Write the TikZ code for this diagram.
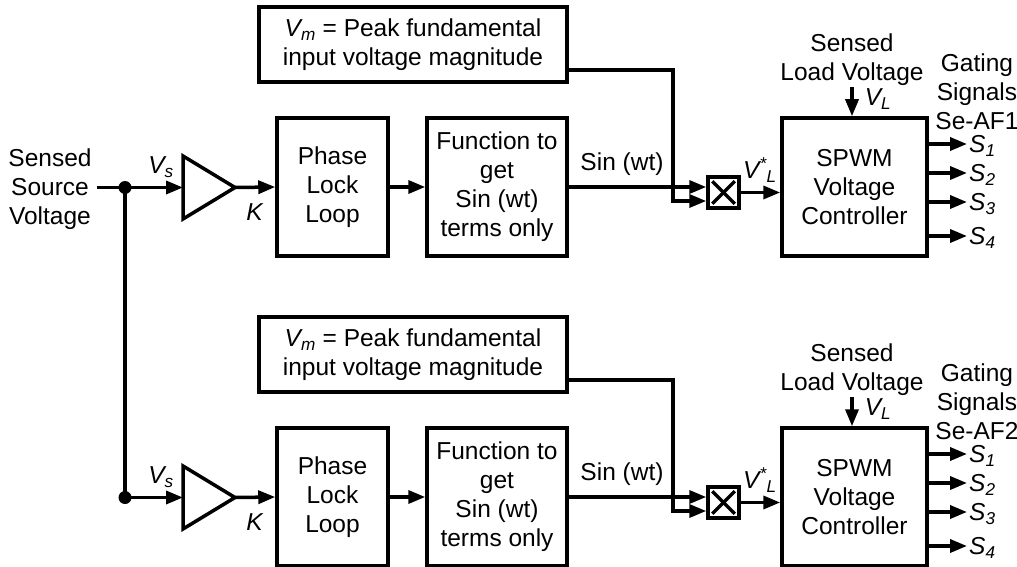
\documentclass[tikz,border=0pt]{standalone}
\usepackage{fontspec}
\setmainfont{Liberation Sans}
\usetikzlibrary{arrows.meta}
\tikzset{
  blk/.style={draw, line width=3.5pt, align=center, inner sep=0pt},
  wire/.style={line width=3.5pt},
  conn/.style={line width=3.5pt, -{Triangle[length=17pt,width=13pt]}},
  lbl/.style={inner sep=0pt, align=center},
}
\begin{document}
\begin{tikzpicture}[x=1pt,y=-1pt,font=\fontsize{24.5}{29}\selectfont, line join=miter]
\useasboundingbox (0,0) rectangle (1017,567);
\foreach \r/\dy/\af in {a/0/1,b/310/2}{
\begin{scope}[shift={(0,\dy)}]
  \node[blk, minimum width=308pt, minimum height=75pt] (vm\r) at (413,44.5)
     {\textit{V\textsubscript{m}} = Peak fundamental\\input voltage magnitude};
  \node[blk, minimum width=111pt, minimum height=138pt] (pll\r) at (332.5,187) {Phase\\Lock\\Loop};
  \node[blk, minimum width=140pt, minimum height=138pt] (fun\r) at (497,187) {Function to\\get\\Sin (wt)\\terms only};
  \node[blk, minimum width=31pt, minimum height=31pt] (mul\r) at (723.5,192.5) {};
  \node[blk, minimum width=145pt, minimum height=138pt] (spwm\r) at (854.5,187) {SPWM\\Voltage\\Controller};
  \coordinate (dot\r) at (125,187.5);
  \coordinate (trin\r) at (183,187.5);
  \coordinate (trout\r) at (235,187.5);
  \coordinate (vmk\r) at (673,201);
  \coordinate (slvk\r) at (852,87);
  % triangle amplifier
  \draw[wire] (183,156) -- (trout\r) -- (183,219) -- cycle;
  \fill (dot\r) circle[radius=6.5pt];
  \draw[conn] (dot\r) -- (trin\r);
  \draw[conn] (trout\r) -- (pll\r.west);
  \draw[conn] (pll\r.east) -- (fun\r.west);
  \draw[conn] (fun\r.east) -- (fun\r.east -| mul\r.west);
  \draw[conn] ([yshift=-25.5pt]vm\r.east) -| (vmk\r) -- (vmk\r -| mul\r.west);
  \draw[wire] ([shift={(6pt,6pt)}]mul\r.south west) -- ([shift={(-6pt,-6pt)}]mul\r.north east);
  \draw[wire] ([shift={(6pt,-6pt)}]mul\r.north west) -- ([shift={(-6pt,6pt)}]mul\r.south east);
  \draw[conn] (mul\r.east) -- (spwm\r.west |- mul\r.east);
  \draw[conn] (slvk\r) -- (slvk\r |- spwm\r.north);
  \node[lbl] (vs\r) at (161,167) {\textit{V\textsubscript{s}}};
  \node[lbl] (k\r) at (255,212) {\textit{K}};
  \node[lbl] (sin\r) at (622,164) {Sin (wt)};
  \node[lbl] (vl\r) at (760,170) {\textit{V\textsuperscript{*}\textsubscript{L}}};
  \node[lbl] (slv\r) at (852,60) {Sensed\\Load Voltage};
  \node[lbl] (vll\r) at (878,99) {\textit{V\textsubscript{L}}};
  \node[lbl] (gate\r) at (977,92) {Gating\\Signals\\Se-AF\af};
  \foreach \i/\yy in {1/144,2/173,3/202,4/236}{
    \coordinate (se\r\i) at (967,\yy);
    \draw[conn] (spwm\r.east |- se\r\i) -- (se\r\i);
    \node[lbl, anchor=west] (s\r\i) at (969,\yy+2) {\textit{S\textsubscript{\i}}};
  }
\end{scope}
}
\node[lbl] (src) at (50,189) {Sensed\\Source\\Voltage};
\coordinate (in) at (97,187.5);
\draw[wire] (in) -- (dota);
\draw[wire] (dota) -- (dotb);
\end{tikzpicture}
\end{document}
